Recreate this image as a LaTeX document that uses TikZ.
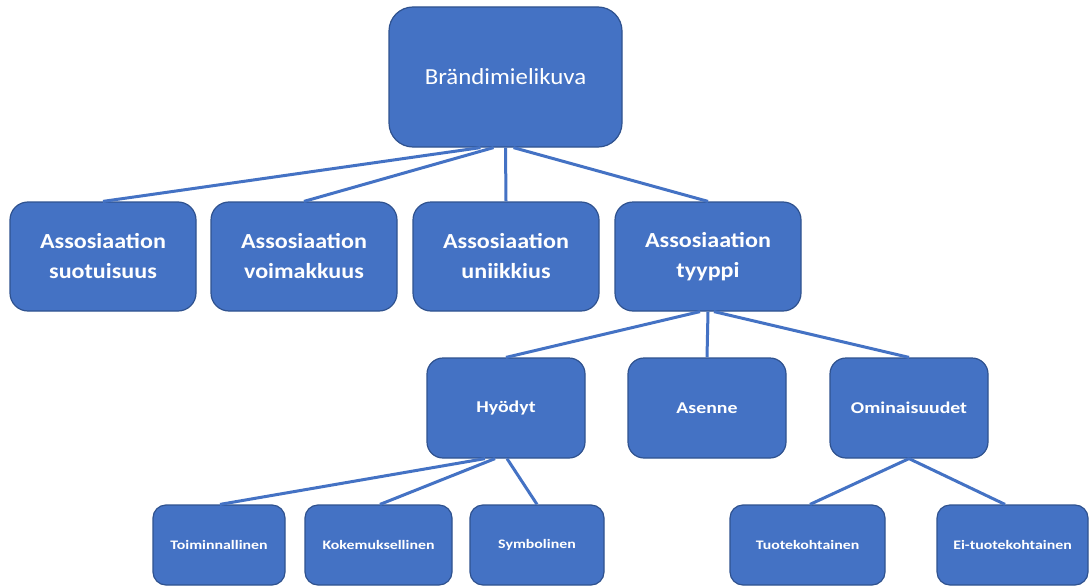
\documentclass[tikz,border=0pt]{standalone}
\usepackage{fontspec}
\newfontfamily\ftop{Carlito}[FakeStretch=1.08]
\newfontfamily\fmid{Carlito}[FakeStretch=1.12]
\newfontfamily\flow{Carlito}[FakeStretch=1.2]
\newfontfamily\fsmall{Carlito}[FakeStretch=1.22]
\definecolor{boxblue}{HTML}{4472C4}
\definecolor{edgeblue}{HTML}{2F528F}
\begin{document}
\begin{tikzpicture}[x=1pt,y=-1pt,
  box/.style={draw=edgeblue, line width=1.2pt, fill=boxblue, text=white, align=center, inner sep=0pt},
  lvl0/.style={box, minimum width=233pt, minimum height=140pt, rounded corners=24pt, font=\ftop\fontsize{23}{28}\selectfont},
  lvl1/.style={box, minimum width=186pt, minimum height=109pt, rounded corners=18pt, font=\fmid\bfseries\fontsize{21.5}{30}\selectfont},
  lvl2/.style={box, minimum width=158pt, minimum height=100pt, rounded corners=16pt, font=\flow\bfseries\fontsize{16.5}{20}\selectfont},
  lvl3/.style={box, minimum height=80pt, rounded corners=13pt, font=\fsmall\bfseries\fontsize{13}{16}\selectfont},
  link/.style={draw=boxblue, line width=3pt}]
\useasboundingbox (0,0) rectangle (1089,586);
\fill[white] (0,0) rectangle (1089,586);
% connectors
\coordinate (dummy) at (0,0);
% nodes
\node[lvl0] (top) at (505.5,77) {Brändimielikuva};
\node[lvl1] (a1) at (103,256.5) {Assosiaation\\suotuisuus};
\node[lvl1] (a2) at (304,256.5) {Assosiaation\\voimakkuus};
\node[lvl1] (a3) at (506,256.5) {Assosiaation\\uniikkius};
\node[lvl1] (a4) at (708,256.5) {Assosiaation\\tyyppi};
\node[lvl2] (h) at (506,408) {Hyödyt};
\node[lvl2] (as) at (707,408) {Asenne};
\node[lvl2] (om) at (909,408) {Ominaisuudet};
\node[lvl3, minimum width=132pt] (t1) at (219,545) {Toiminnallinen};
\node[lvl3, minimum width=147pt] (t2) at (378.5,545) {Kokemuksellinen};
\node[lvl3, minimum width=134pt] (t3) at (537,545) {Symbolinen};
\node[lvl3, minimum width=155pt] (t4) at (807.5,545) {Tuotekohtainen};
\node[lvl3, minimum width=151pt] (t5) at (1012.5,545) {Ei-tuotekohtainen};
% links
\draw[link] ([xshift=-25pt]top.south) -- (a1.north);
\draw[link] ([xshift=-12pt]top.south) -- (a2.north);
\draw[link] (top.south) -- (a3.north);
\draw[link] ([xshift=8pt]top.south) -- (a4.north);
\draw[link] ([xshift=-8pt]a4.south) -- (h.north);
\draw[link] (a4.south) -- (as.north);
\draw[link] ([xshift=6pt]a4.south) -- (om.north);
\draw[link] ([xshift=-21pt]h.south) -- ([xshift=1pt]t1.north);
\draw[link] ([xshift=-11pt]h.south) -- ([xshift=1.5pt]t2.north);
\draw[link] ([xshift=1pt]h.south) -- (t3.north);
\draw[link] (om.south) -- ([xshift=2.5pt]t4.north);
\draw[link] (om.south) -- ([xshift=-7.5pt]t5.north);
\end{tikzpicture}
\end{document}
